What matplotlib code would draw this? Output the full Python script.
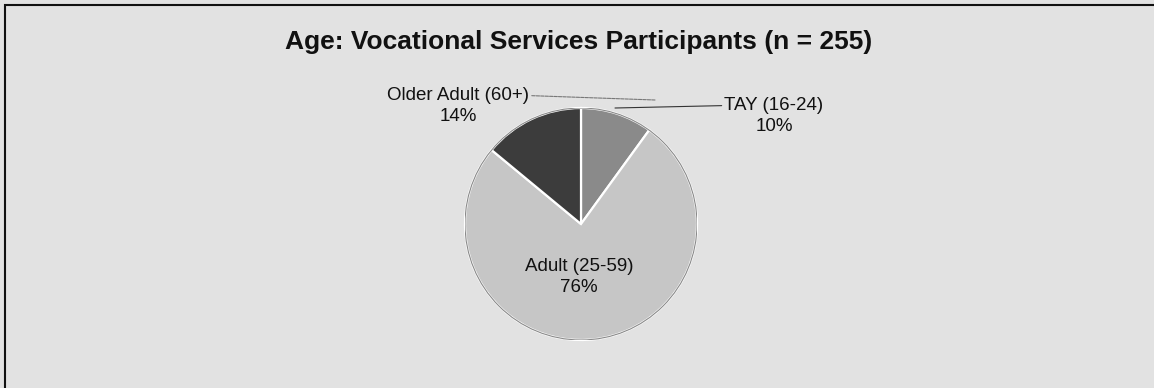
import numpy as np
import matplotlib.pyplot as plt
from matplotlib.patches import Rectangle, Circle

plt.rcParams['font.family'] = ['Liberation Sans', 'DejaVu Sans']

title = 'Age: Vocational Services Participants (n = 255)'
groups = ['TAY (16-24)', 'Adult (25-59)', 'Older Adult (60+)']
shares = [10, 76, 14]
colors = ['#8a8a8a', '#c6c6c6', '#3c3c3c']

W, H = 1154, 388
fig = plt.figure(figsize=(W / 100, H / 100), dpi=100)
fig.patch.set_facecolor('#e2e2e2')

# scan frame: only top and left edges visible
fig.add_artist(Rectangle((5 / W, -0.1), 1.2, 1 - 5 / H + 0.1, transform=fig.transFigure,
                         fill=False, edgecolor='#111111', lw=1.5))

fig.text(579 / W, 1 - 42 / H, title, ha='center', va='center',
         fontsize=19, fontweight='bold', color='#111111')

cx, cy, r = 581, 224, 116
ax = fig.add_axes([(cx - r) / W, (H - cy - r) / H, 2 * r / W, 2 * r / H])
ax.axis('off')

wedges, _ = ax.pie(shares, colors=colors, startangle=90, counterclock=False, radius=1,
                   wedgeprops=dict(edgecolor='white', lw=1.6))
ax.add_patch(Circle((0, 0), 1, fill=False, edgecolor='#8a8a8a', lw=0.8))
ax.set_xlim(-1, 1)
ax.set_ylim(-1, 1)
ax.set_aspect('equal')


def d(px, py):
    return (px - cx) / r, (cy - py) / r


kw = dict(fontsize=13.5, color='#111111', ha='center', va='center', linespacing=1.25,
          annotation_clip=False)

# Older Adult label and leader line
ax.annotate(f'{groups[2]}\n{shares[2]}%', xy=d(655, 100), xytext=d(458, 106),
            arrowprops=dict(arrowstyle='-', color='#777777', lw=0.8, ls=(0, (3, 1)),
                            shrinkA=0, shrinkB=0, relpos=(1.0, 0.78)), **kw)
# TAY label and leader line
ax.annotate(f'{groups[0]}\n{shares[0]}%', xy=d(615, 108), xytext=d(774, 116),
            arrowprops=dict(arrowstyle='-', color='#333333', lw=0.8,
                            shrinkA=0, shrinkB=0, relpos=(0.0, 0.78)), **kw)
# Adult label inside
ax.annotate(f'{groups[1]}\n{shares[1]}%', xy=d(579, 277), xytext=d(579, 277), **kw)

fig.savefig('out.png', dpi=100, facecolor=fig.get_facecolor())
